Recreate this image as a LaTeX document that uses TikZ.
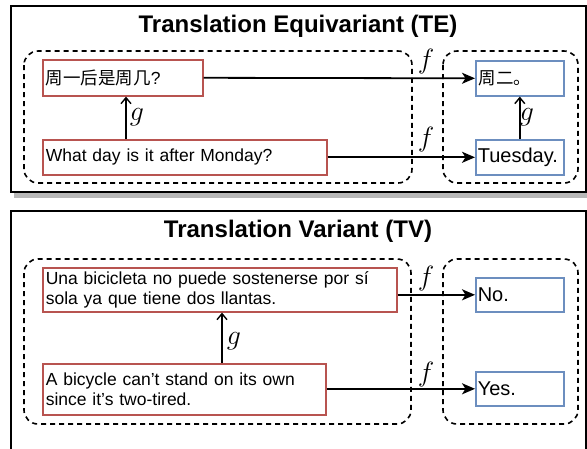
\documentclass[tikz,border=0pt]{standalone}
\usepackage{graphicx}
\usepackage{fontspec}
\setmainfont{Liberation Sans}
\newfontfamily\cjk{Noto Sans CJK SC}
\usetikzlibrary{arrows.meta}
\definecolor{redst}{HTML}{B85450}
\definecolor{bluest}{HTML}{6C8EBF}
\newcommand\mlbl[1]{\scalebox{1.12}{$#1$}}
\tikzset{
 panel/.style={draw=black, line width=1.9pt, fill=white},
 shadowbox/.style={fill=black!28},
 groupbox/.style={draw=black, line width=1.6pt, dash pattern=on 5pt off 4pt, rounded corners=14pt},
 txtbox/.style={anchor=north west, line width=1.6pt, fill=white, inner xsep=3pt, inner ysep=0pt, align=left, font=\fontsize{17.5}{20}\selectfont},
 redbox/.style={txtbox, draw=redst},
 bluebox/.style={txtbox, draw=bluest},
 bigtxt/.style={font=\fontsize{20}{24}\selectfont, inner xsep=2pt, text width=84pt},
 farrow/.style={line width=1.8pt, -{Stealth[length=13pt,width=11pt,inset=3.5pt]}},
 garrow/.style={line width=1.4pt, -{Straight Barb[length=6pt,width=10pt]}},
 mathlbl/.style={font=\fontsize{24.88}{26}\selectfont, inner sep=0pt},
 ttl/.style={font=\bfseries\fontsize{24}{28}\selectfont, anchor=base}
}
\begin{document}
\begin{tikzpicture}[x=1pt,y=-1pt]
\useasboundingbox (0,0) rectangle (587,448);
\clip (0,0) rectangle (587,448);
% panels
\fill[shadowbox] (14,12) rectangle (590,198);
\draw[panel] (11,6) rectangle (586,192);
\fill[shadowbox] (14,217) rectangle (590,470);
\draw[panel] (11,211) rectangle (586,465);
% titles
\node[ttl] (T1) at (298,32) {Translation Equivariant (TE)};
\node[ttl] (T2) at (298,237) {Translation Variant (TV)};
% groups
\draw[groupbox] (24,51) rectangle (412,183);
\draw[groupbox] (443,51) rectangle (578,183);
\draw[groupbox] (24,259) rectangle (411,424);
\draw[groupbox] (443,259) rectangle (578,424);
% top boxes
\node[redbox, minimum height=36pt, text width=154pt] (A) at (42,59) {{\cjk 周一后是周几}?};
\node[redbox, minimum height=35pt, text width=278pt] (B) at (42,139) {What day is it after Monday?};
\node[bluebox, minimum height=35pt, text width=82pt] (C) at (475,60) {{\cjk 周二。}};
\node[bluebox, bigtxt, minimum height=35pt] (D) at (475,139) {Tuesday.};
% bottom boxes
\node[redbox, minimum height=44pt, text width=348pt] (U) at (42,267) {Una bicicleta no puede sostenerse por sí\\sola ya que tiene dos llantas.};
\node[bluebox, bigtxt, minimum height=34pt] (No) at (475,277) {No.};
\node[redbox, minimum height=51pt, text width=277pt] (Bk) at (42,363) {A bicycle can’t stand on its own\\since it’s two-tired.};
\node[bluebox, bigtxt, minimum height=34pt] (Yes) at (475,371) {Yes.};
% f arrows
\draw[farrow] (A.east) -- (C.west);
\draw[farrow] (B.east) -- (D.west);
\draw[farrow] (U.east |- No.west) -- (No.west);
\draw[farrow] (Bk.east |- Yes.west) -- (Yes.west);
% g arrows
\coordinate (gx1) at (126,0);
\coordinate (gx2) at (222,0);
\draw[garrow] (B.north -| gx1) -- (A.south -| gx1);
\draw[garrow] (D.north) -- (C.south);
\draw[garrow] (Bk.north -| gx2) -- (U.south -| gx2);
% labels
\node[mathlbl] (f1) at (426,62) {\mlbl{f}};
\node[mathlbl] (f2) at (426,140) {\mlbl{f}};
\node[mathlbl] (f3) at (426,279) {\mlbl{f}};
\node[mathlbl] (f4) at (426,375) {\mlbl{f}};
\node[mathlbl] (g1) at (137,117) {\mlbl{g}};
\node[mathlbl] (g2) at (527,117) {\mlbl{g}};
\node[mathlbl] (g3) at (234,341) {\mlbl{g}};
\end{tikzpicture}
\end{document}
